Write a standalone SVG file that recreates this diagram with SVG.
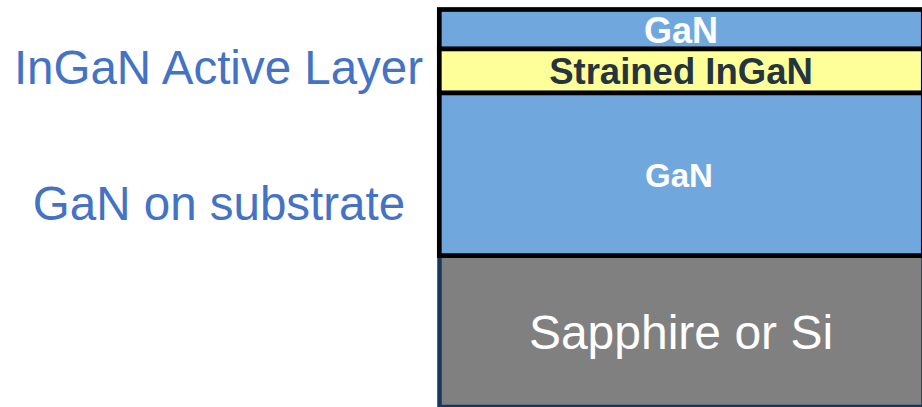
<svg xmlns="http://www.w3.org/2000/svg" width="922" height="407" viewBox="0 0 922 407">
  <style>
    .label { font-family: "Liberation Sans", Arial, sans-serif; fill: #4472c4; font-size: 47.5px; text-anchor: middle; }
    .layer { stroke: #000000; stroke-width: 4.7; }
    .gan { fill: #70a8dd; }
    .txt { font-family: "Liberation Sans", Arial, sans-serif; text-anchor: middle; }
  </style>
  <rect width="922" height="407" fill="#ffffff"/>

  <!-- side labels -->
  <g id="label-active">
    <text class="label" x="218.5" y="84">InGaN Active Layer</text>
  </g>
  <g id="label-substrate">
    <text class="label" x="219" y="220">GaN on substrate</text>
  </g>

  <!-- layer stack, bottom to top -->
  <g id="substrate">
    <rect x="439.5" y="255.6" width="484" height="151.4" fill="#808080" stroke="#17375e" stroke-width="4.5"/>
    <text class="txt" x="681" y="349" font-size="48" fill="#ffffff">Sapphire or Si</text>
  </g>
  <g id="gan-buffer">
    <rect class="layer gan" x="439.3" y="92.8" width="484" height="162.8"/>
    <text class="txt" x="679" y="187" font-size="33" font-weight="bold" fill="#ffffff">GaN</text>
  </g>
  <g id="ingan">
    <rect class="layer" x="439.3" y="48.8" width="484" height="44" fill="#ffff99"/>
    <text class="txt" x="681" y="84" font-size="36.5" font-weight="bold" fill="#253540">Strained InGaN</text>
  </g>
  <g id="gan-cap">
    <rect class="layer gan" x="439.3" y="9.5" width="484" height="39.3"/>
    <text class="txt" x="681" y="43.3" font-size="36" font-weight="bold" fill="#ffffff">GaN</text>
  </g>

  <g id="connectors"/>
</svg>
